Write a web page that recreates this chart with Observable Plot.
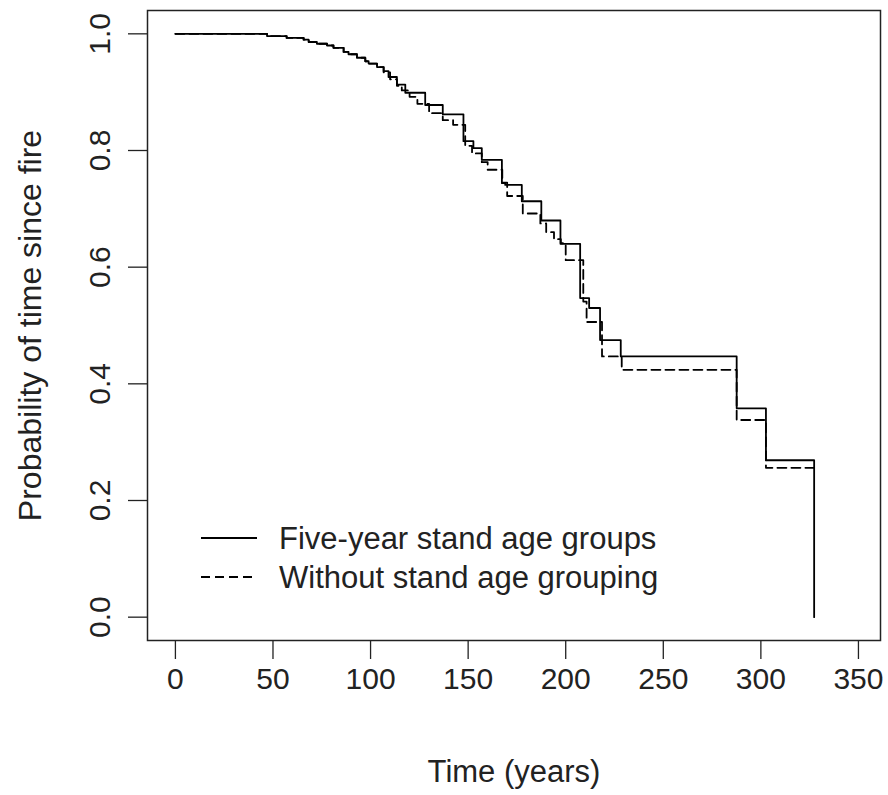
<!DOCTYPE html>
<html><head><meta charset="utf-8">
<script src="https://cdn.jsdelivr.net/npm/d3@7"></script>
<script src="https://cdn.jsdelivr.net/npm/@observablehq/plot@0.6"></script>
<style>body{margin:0;background:#fff}#chart{width:888px;height:795px}</style>
</head><body><div id="chart"></div>
<script>
// Five-year stand age groups (solid)
const fiveYearTime = [0, 47, 57, 65.7, 68.3, 72.5, 77.7, 81, 86.2, 88.7, 93, 97.3, 99, 103.3, 106.7, 109.2, 113.5, 117.8, 128, 137, 147.6, 152.7, 157, 167.3, 169, 177.5, 187.5, 197.3, 207.4, 212, 217.6, 228.2, 287.6, 302.6, 327.3];
const fiveYearSurv = [1.0, 0.996, 0.993, 0.990, 0.986, 0.983, 0.980, 0.976, 0.969, 0.965, 0.959, 0.953, 0.949, 0.943, 0.936, 0.926, 0.913, 0.899, 0.878, 0.862, 0.816, 0.804, 0.784, 0.744, 0.741, 0.713, 0.680, 0.640, 0.547, 0.530, 0.475, 0.447, 0.358, 0.269, 0.0];
// Without stand age grouping (dashed)
const ungroupedTime = [0, 47, 57, 65.7, 68.3, 72.5, 77.7, 81, 86.2, 88.7, 93, 97.3, 99, 103.3, 106.7, 110, 113.5, 116, 120, 124, 130, 137, 142.3, 148.5, 152, 157, 160, 167.5, 170, 178, 187, 190, 194, 197.5, 200, 209, 210.7, 218.6, 228.7, 287.6, 302.6, 327.3];
const ungroupedSurv = [1.0, 0.996, 0.993, 0.990, 0.986, 0.983, 0.980, 0.976, 0.969, 0.965, 0.959, 0.953, 0.949, 0.943, 0.934, 0.922, 0.911, 0.903, 0.892, 0.880, 0.864, 0.852, 0.844, 0.808, 0.795, 0.780, 0.767, 0.745, 0.722, 0.692, 0.675, 0.660, 0.648, 0.641, 0.612, 0.541, 0.506, 0.447, 0.424, 0.338, 0.256, 0.256];

const xTicks = [0, 50, 100, 150, 200, 250, 300, 350];
const yTicks = [0, 0.2, 0.4, 0.6, 0.8, 1.0];
const xTitle = "Time (years)";
const yTitle = "Probability of time since fire";
const legendLabels = ["Five-year stand age groups", "Without stand age grouping"];

const solid = fiveYearTime.map((t, i) => ({t, s: fiveYearSurv[i]}));
const dashed = ungroupedTime.map((t, i) => ({t, s: ungroupedSurv[i]}));

const FONT = "'Liberation Sans', Arial, sans-serif";
const INK = "#222";
const plot = Plot.plot({
  width: 888, height: 795,
  marginLeft: 147, marginRight: 8, marginTop: 10, marginBottom: 155,
  style: {fontFamily: FONT, fontSize: "30px", color: INK, background: "#fff"},
  x: {domain: [-14.3, 361.3]},
  y: {domain: [-0.04, 1.04]},
  marks: [
    Plot.frame({stroke: INK, strokeWidth: 1.5}),
    Plot.axisX({ticks: xTicks, tickSize: 19, tickPadding: 8, label: null, fontSize: 30, strokeWidth: 1.3, stroke: INK}),
    Plot.axisY({ticks: yTicks, tickSize: 19, tickFormat: () => "", label: null, strokeWidth: 1.3, stroke: INK}),
    Plot.text(yTicks, {y: d => d, text: d => d.toFixed(1), frameAnchor: "left", dx: -47, rotate: -90, textAnchor: "middle", lineAnchor: "middle", fontSize: 30, fill: INK}),
    Plot.text([xTitle], {frameAnchor: "bottom", dy: 132, textAnchor: "middle", lineAnchor: "middle", fontSize: 31, fill: INK}),
    Plot.text([yTitle], {frameAnchor: "left", dx: -117, rotate: -90, textAnchor: "middle", lineAnchor: "middle", fontSize: 32, fill: INK}),
    Plot.line(dashed, {x: "t", y: "s", curve: "step-after", stroke: "#000", strokeWidth: 1.8, strokeDasharray: "9,5"}),
    Plot.line(solid, {x: "t", y: "s", curve: "step-after", stroke: "#000", strokeWidth: 1.8})
  ]
});
document.getElementById("chart").appendChild(plot);

// Legend inside the plot area
const svg = d3.select(plot);
const lg = svg.append("g");
const rows = [{y: 538, dash: null}, {y: 577, dash: "9,5"}];
rows.forEach((r, i) => {
  lg.append("line").attr("x1", 201).attr("x2", 257).attr("y1", r.y).attr("y2", r.y)
    .attr("stroke", "#000").attr("stroke-width", 1.8).attr("stroke-dasharray", r.dash);
  lg.append("text").attr("x", 279).attr("y", r.y).attr("dy", "0.35em")
    .attr("text-anchor", "start")
    .attr("font-family", FONT).attr("font-size", 31).attr("fill", INK).text(legendLabels[i]);
});
</script>
</body></html>
